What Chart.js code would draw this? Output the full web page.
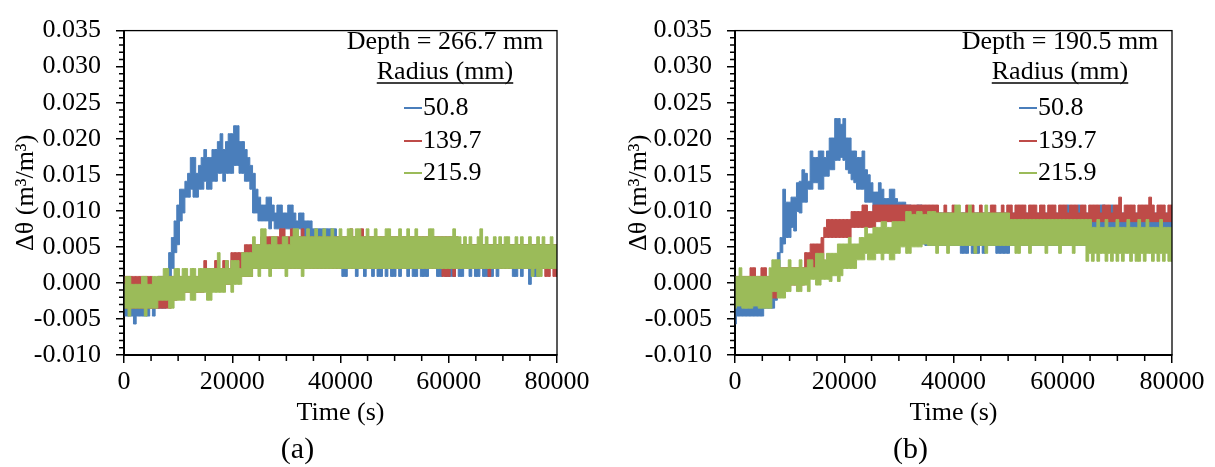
<!DOCTYPE html>
<html>
<head>
<meta charset="utf-8">
<script src="https://cdn.jsdelivr.net/npm/chart.js@4.4.0/dist/chart.umd.min.js"></script>
<style>
  body { margin: 0; background: #fff; }
  .panel { position: absolute; top: 0; height: 467px; }
  #panelA { left: 0; width: 607px; }
  #panelB { left: 607px; width: 608px; }
</style>
</head>
<body>
<div class="panel" id="panelA"><canvas id="chartA"></canvas></div>
<div class="panel" id="panelB"><canvas id="chartB"></canvas></div>
<script>
// =========================================================================
// Delta theta vs time, two depths. Noisy signals are kept as a band
// (upper / lower edge) every 500 s, in 0.001 m3/m3.
// One row = 5000 s.
// =========================================================================

const times = Array.from({ length: 161 }, (_, i) => i * 500);
const radii = ['50.8', '139.7', '215.9'];
const colors = ['#4a7ebb', '#be4b48', '#9bbb59'];

// (a) Depth = 266.7 mm
const aBlueHi = [
  -0.2, -1.3, -0.2, -0.2, -1.3, -0.2, -0.2, -1.3, -1.3, -0.2,
  -0.2, -1.3, -0.2, 0.9, 0.9, -0.2, 2.0, 4.2, 6.3, 8.6,
  10.8, 13.0, 13.0, 14.1, 15.2, 17.4, 17.4, 15.2, 16.3, 17.4,
  18.5, 17.4, 17.4, 18.5, 18.5, 19.6, 20.7, 18.5, 19.6, 20.7,
  20.7, 21.8, 21.8, 19.6, 19.6, 18.5, 17.4, 16.3, 15.2, 13.0,
  11.9, 10.8, 10.8, 11.9, 11.9, 10.8, 9.7, 10.8, 10.8, 9.7,
  9.7, 10.8, 10.8, 9.7, 8.6, 9.7, 9.7, 8.6, 8.6, 8.6,
  7.5, 7.5, 7.5, 7.5, 7.5, 7.5, 7.5, 7.5, 7.5, 6.4,
  5.3, 5.3, 5.3, 5.3, 5.3, 5.3, 5.3, 5.3, 5.3, 5.3,
  5.3, 5.3, 5.3, 5.3, 5.3, 5.3, 5.3, 5.3, 5.3, 5.3,
  5.3, 5.3, 5.3, 5.3, 5.3, 5.3, 5.3, 5.3, 5.3, 5.3,
  5.3, 5.3, 5.3, 5.3, 5.3, 5.3, 5.3, 5.3, 5.3, 5.3,
  5.3, 5.3, 5.3, 5.3, 5.3, 5.3, 5.3, 5.3, 5.3, 5.3,
  5.3, 5.3, 5.3, 5.3, 5.3, 5.3, 5.3, 5.3, 5.3, 5.3,
  5.3, 5.3, 5.3, 5.3, 5.3, 5.3, 5.3, 5.3, 5.3, 5.3,
  5.3, 5.3, 5.3, 5.3, 5.3, 5.3, 5.3, 5.3, 5.3, 5.3,
  5.3
];
const aBlueLo = [
  -4.6, -4.6, -4.6, -4.6, -5.7, -4.6, -4.6, -4.6, -4.6, -4.6,
  -3.5, -4.6, -3.5, -3.5, -3.5, -3.5, -1.3, 0.9, 2.0, 4.2,
  5.3, 8.6, 9.7, 11.9, 11.9, 13.0, 11.9, 11.9, 13.0, 13.0,
  14.1, 13.0, 13.0, 14.1, 14.1, 15.2, 15.2, 14.1, 15.2, 15.2,
  15.2, 16.3, 16.3, 15.2, 15.2, 14.1, 14.1, 13.0, 9.7, 9.7,
  8.6, 8.6, 8.6, 8.6, 7.5, 8.6, 7.5, 7.5, 7.5, 7.5,
  7.5, 7.5, 7.5, 7.5, 7.5, 7.5, 6.4, 6.4, 6.4, 6.4,
  6.4, 6.4, 5.3, 5.3, 4.2, 4.2, 3.1, 3.1, 2.0, 2.0,
  2.0, 0.9, 0.9, 2.0, 2.0, 2.0, 0.9, 2.0, 2.0, 0.9,
  2.0, 2.0, 0.9, 2.0, 0.9, 0.9, 2.0, 0.9, 2.0, 0.9,
  0.9, 2.0, 0.9, 2.0, 2.0, 0.9, 2.0, 0.9, 0.9, 2.0,
  0.9, 0.9, 0.9, 2.0, 2.0, 2.0, 0.9, 0.9, 2.0, 0.9,
  0.9, 0.9, 0.9, 2.0, 0.9, 0.9, 2.0, 2.0, 0.9, 2.0,
  0.9, 0.9, 2.0, 0.9, 0.9, 0.9, 0.9, 2.0, 0.9, 2.0,
  2.0, 2.0, 2.0, 2.0, 0.9, 0.9, 2.0, 0.9, 2.0, 2.0,
  -0.2, 2.0, 0.9, 0.9, 2.0, 2.0, 2.0, 2.0, 2.0, 2.0,
  2.0
];
const aRedHi = [
  0.9, 0.9, 0.9, 0.9, 0.9, 0.9, 0.9, 0.9, 0.9, 0.9,
  0.9, -0.2, -0.2, 0.9, 0.9, -0.2, -0.2, 0.9, 0.9, 0.9,
  0.9, 0.9, 0.9, 0.9, 0.9, 0.9, 0.9, 0.9, 0.9, 0.9,
  3.1, 2.0, 2.0, 2.0, 3.1, 2.0, 2.0, 3.1, 3.1, 2.0,
  4.2, 4.2, 4.2, 4.2, 4.2, 5.3, 5.3, 5.3, 5.3, 5.3,
  5.3, 6.4, 6.4, 6.4, 6.4, 6.4, 6.4, 6.4, 7.5, 7.5,
  6.4, 6.4, 7.5, 6.4, 6.4, 6.4, 7.5, 6.4, 6.4, 6.4,
  6.4, 6.4, 6.4, 6.4, 6.4, 6.4, 6.4, 6.4, 6.4, 6.4,
  6.4, 6.4, 6.4, 6.4, 7.5, 6.4, 6.4, 6.4, 7.5, 6.4,
  6.4, 6.4, 6.4, 6.4, 6.4, 6.4, 6.4, 6.4, 6.4, 6.4,
  6.4, 6.4, 6.4, 6.4, 6.4, 6.4, 6.4, 6.4, 6.4, 6.4,
  6.4, 6.4, 6.4, 6.4, 6.4, 6.4, 6.4, 6.4, 6.4, 6.4,
  6.4, 6.4, 6.4, 6.4, 5.3, 5.3, 5.3, 5.3, 5.3, 5.3,
  5.3, 5.3, 5.3, 5.3, 5.3, 5.3, 5.3, 5.3, 5.3, 5.3,
  5.3, 5.3, 5.3, 5.3, 5.3, 5.3, 5.3, 5.3, 5.3, 5.3,
  5.3, 5.3, 5.3, 5.3, 5.3, 5.3, 5.3, 5.3, 5.3, 5.3,
  5.3
];
const aRedLo = [
  -3.5, -3.5, -3.5, -3.5, -3.5, -3.5, -3.5, -3.5, -3.5, -3.5,
  -3.5, -3.5, -3.5, -3.5, -3.5, -3.5, -3.5, -3.5, -2.4, -2.4,
  -1.3, -1.3, -1.3, -1.3, -1.3, -1.3, -1.3, -1.3, -1.3, -1.3,
  -0.2, -0.2, -0.2, -0.2, -0.2, -0.2, -0.2, -0.2, -0.2, -0.2,
  0.9, 0.9, 0.9, 0.9, 0.9, 0.9, 0.9, 0.9, 2.0, 2.0,
  2.0, 2.0, 2.0, 2.0, 2.0, 2.0, 2.0, 2.0, 2.0, 2.0,
  2.0, 2.0, 2.0, 2.0, 2.0, 2.0, 2.0, 2.0, 2.0, 2.0,
  2.0, 2.0, 2.0, 2.0, 2.0, 2.0, 2.0, 2.0, 2.0, 2.0,
  2.0, 2.0, 2.0, 2.0, 2.0, 2.0, 2.0, 2.0, 2.0, 2.0,
  2.0, 2.0, 2.0, 2.0, 2.0, 2.0, 2.0, 2.0, 2.0, 2.0,
  2.0, 2.0, 2.0, 2.0, 2.0, 2.0, 2.0, 2.0, 2.0, 2.0,
  2.0, 2.0, 2.0, 2.0, 2.0, 2.0, 2.0, 2.0, 0.9, 0.9,
  0.9, 2.0, 0.9, 2.0, 2.0, 2.0, 2.0, 2.0, 2.0, 2.0,
  2.0, 2.0, 2.0, 2.0, 2.0, 0.9, 2.0, 2.0, 2.0, 2.0,
  2.0, 2.0, 2.0, 2.0, 2.0, 2.0, 2.0, 2.0, 2.0, 2.0,
  2.0, 2.0, 2.0, 2.0, 2.0, 2.0, 0.9, 0.9, 2.0, 0.9,
  0.9
];
const aGreenHi = [
  -0.2, 0.9, 0.9, -0.2, -0.2, -0.2, -0.2, 0.9, 0.9, -0.2,
  -0.2, 0.9, 0.9, 0.9, 0.9, 2.0, 2.0, 0.9, 0.9, 2.0,
  2.0, 0.9, 2.0, 2.0, 0.9, 2.0, 2.0, 0.9, 2.0, 2.0,
  2.0, 2.0, 2.0, 2.0, 2.0, 4.2, 2.0, 2.0, 3.1, 2.0,
  3.1, 3.1, 3.1, 2.0, 4.2, 4.2, 4.2, 4.2, 6.4, 5.3,
  5.3, 7.5, 7.5, 5.3, 5.3, 6.4, 6.4, 5.3, 5.3, 6.4,
  6.4, 5.3, 6.4, 7.5, 7.5, 6.4, 6.4, 6.4, 7.5, 6.4,
  6.4, 7.5, 6.4, 6.4, 7.5, 6.4, 6.4, 7.5, 6.4, 6.4,
  7.5, 6.4, 6.4, 7.5, 7.5, 6.4, 7.5, 7.5, 6.4, 6.4,
  7.5, 6.4, 6.4, 7.5, 6.4, 6.4, 6.4, 7.5, 7.5, 6.4,
  6.4, 6.4, 7.5, 6.4, 6.4, 7.5, 6.4, 6.4, 7.5, 6.4,
  6.4, 6.4, 6.4, 7.5, 7.5, 6.4, 6.4, 6.4, 6.4, 6.4,
  6.4, 6.4, 7.5, 6.4, 6.4, 5.3, 6.4, 5.3, 6.4, 5.3,
  5.3, 6.4, 7.5, 5.3, 6.4, 5.3, 5.3, 6.4, 5.3, 6.4,
  5.3, 6.4, 6.4, 5.3, 5.3, 6.4, 5.3, 6.4, 5.3, 5.3,
  6.4, 5.3, 5.3, 6.4, 5.3, 6.4, 5.3, 5.3, 6.4, 5.3,
  5.3
];
const aGreenLo = [
  -3.5, -3.5, -4.6, -3.5, -3.5, -3.5, -3.5, -3.5, -4.6, -3.5,
  -3.5, -3.5, -3.5, -2.4, -2.4, -2.4, -2.4, -3.5, -3.5, -2.4,
  -2.4, -2.4, -2.4, -1.3, -1.3, -2.4, -2.4, -1.3, -1.3, -1.3,
  -1.3, -2.4, -2.4, -1.3, -1.3, -1.3, -1.3, -1.3, -0.2, -0.2,
  -1.3, -0.2, -0.2, -0.2, 0.9, 0.9, 0.9, 0.9, 2.0, 2.0,
  0.9, 2.0, 2.0, 2.0, 0.9, 2.0, 2.0, 2.0, 2.0, 2.0,
  0.9, 2.0, 2.0, 2.0, 2.0, 2.0, 0.9, 2.0, 2.0, 2.0,
  2.0, 2.0, 2.0, 2.0, 2.0, 2.0, 2.0, 2.0, 2.0, 2.0,
  2.0, 2.0, 2.0, 2.0, 2.0, 2.0, 2.0, 2.0, 2.0, 2.0,
  2.0, 2.0, 2.0, 2.0, 2.0, 2.0, 2.0, 2.0, 2.0, 2.0,
  2.0, 2.0, 2.0, 2.0, 2.0, 2.0, 2.0, 2.0, 2.0, 2.0,
  2.0, 2.0, 2.0, 2.0, 2.0, 2.0, 2.0, 2.0, 2.0, 2.0,
  2.0, 2.0, 2.0, 2.0, 2.0, 2.0, 2.0, 2.0, 2.0, 2.0,
  2.0, 2.0, 2.0, 2.0, 2.0, 2.0, 2.0, 2.0, 2.0, 2.0,
  2.0, 2.0, 2.0, 2.0, 2.0, 2.0, 2.0, 2.0, 2.0, 2.0,
  2.0, 0.9, 2.0, 0.9, 0.9, 2.0, 2.0, 2.0, 2.0, 2.0,
  2.0
];

// (b) Depth = 190.5 mm
const bBlueHi = [
  -2.4, -2.4, -2.4, -2.4, -3.5, -2.4, -2.4, -2.4, -2.4, -2.4,
  -2.4, -2.4, -2.4, -2.4, -1.3, 2.0, 4.2, 6.3, 13.0, 11.2,
  11.2, 11.9, 11.9, 13.9, 14.1, 15.7, 15.2, 14.1, 18.3, 17.4,
  17.4, 18.3, 18.3, 17.4, 18.3, 20.1, 20.1, 22.8, 22.8, 22.0,
  22.8, 20.1, 20.1, 18.3, 18.3, 17.4, 17.4, 18.3, 15.7, 15.0,
  13.9, 12.6, 12.6, 13.9, 13.0, 11.7, 11.7, 13.0, 13.0, 11.7,
  11.2, 11.2, 11.2, 10.8, 10.8, 9.7, 9.7, 10.8, 10.8, 9.7,
  9.7, 9.7, 9.7, 9.7, 9.7, 9.7, 9.7, 9.7, 9.7, 9.7,
  9.7, 9.7, 9.7, 9.7, 9.7, 9.7, 9.7, 9.7, 9.7, 9.7,
  9.7, 9.7, 9.7, 9.7, 9.7, 9.7, 9.7, 9.7, 9.7, 9.7,
  9.7, 9.7, 9.7, 9.7, 9.7, 9.7, 9.7, 9.7, 9.7, 9.7,
  9.7, 9.7, 9.7, 9.7, 9.7, 9.7, 9.7, 9.7, 9.7, 9.7,
  9.7, 9.7, 10.8, 9.7, 9.7, 9.7, 10.8, 9.7, 9.7, 9.7,
  9.7, 9.7, 9.7, 9.7, 10.8, 10.8, 9.7, 9.7, 10.8, 9.7,
  9.7, 9.7, 9.7, 9.7, 9.7, 9.7, 9.7, 9.7, 9.7, 9.7,
  9.7, 9.7, 9.7, 9.7, 9.7, 9.7, 9.7, 9.7, 9.7, 9.7,
  9.7
];
const bBlueLo = [
  -5.7, -4.6, -4.6, -4.6, -4.6, -4.6, -4.6, -4.6, -4.6, -4.6,
  -4.6, -3.5, -3.5, -3.5, -3.5, -2.4, 2.0, 4.2, 5.4, 6.3,
  6.3, 7.7, 7.2, 9.9, 9.7, 11.2, 11.2, 13.0, 13.0, 13.9,
  13.9, 13.0, 13.0, 14.8, 14.8, 15.7, 15.7, 17.0, 17.0, 17.4,
  17.0, 15.7, 15.2, 14.3, 13.9, 13.0, 13.0, 13.0, 11.2, 11.2,
  11.2, 9.9, 9.9, 10.3, 10.3, 9.9, 9.9, 9.9, 9.9, 9.9,
  9.0, 9.0, 8.5, 8.5, 7.7, 7.7, 6.3, 6.3, 5.4, 5.4,
  5.2, 5.2, 5.2, 5.2, 5.2, 5.2, 5.2, 5.2, 5.2, 5.2,
  5.2, 5.2, 5.2, 4.1, 4.1, 4.1, 5.2, 4.1, 4.1, 4.1,
  5.2, 4.1, 5.2, 5.2, 5.2, 5.2, 4.1, 4.1, 4.1, 4.1,
  4.1, 5.2, 5.2, 5.2, 5.2, 5.2, 5.2, 5.2, 5.2, 5.2,
  5.2, 5.2, 5.2, 5.2, 5.2, 5.2, 5.2, 5.2, 5.2, 5.2,
  5.2, 5.2, 5.2, 5.2, 5.2, 5.2, 5.2, 5.2, 5.2, 5.2,
  5.2, 5.2, 5.2, 5.2, 5.2, 5.2, 5.2, 5.2, 5.2, 5.2,
  5.2, 5.2, 5.2, 5.2, 5.2, 5.2, 5.2, 5.2, 5.2, 5.2,
  5.2, 5.2, 5.2, 5.2, 5.2, 5.2, 5.2, 5.2, 5.2, 5.2,
  5.2
];
const bRedHi = [
  0.9, 0.9, 0.9, 0.9, 0.9, 0.9, 2.1, 2.1, 0.9, 0.9,
  2.1, 2.1, 0.9, 0.9, 0.9, 0.9, 2.1, 2.1, 2.1, 2.1,
  2.1, 2.1, 2.1, 2.1, 2.1, 2.1, 4.2, 4.2, 5.4, 5.4,
  5.4, 5.4, 6.3, 7.7, 8.8, 8.8, 8.8, 8.8, 8.8, 8.8,
  8.8, 8.8, 8.8, 9.9, 9.9, 9.9, 9.9, 10.8, 10.8, 9.9,
  9.9, 10.8, 10.8, 10.8, 10.8, 10.8, 10.8, 10.8, 10.8, 10.8,
  10.8, 10.8, 10.8, 10.8, 10.8, 10.8, 10.8, 10.8, 10.8, 10.8,
  10.8, 10.8, 10.8, 10.8, 10.8, 9.7, 9.7, 10.8, 9.7, 9.7,
  10.8, 9.7, 9.7, 9.7, 9.7, 10.8, 9.7, 10.8, 9.7, 9.7,
  10.8, 9.7, 9.7, 9.7, 10.8, 10.8, 9.7, 9.7, 10.8, 9.7,
  10.8, 10.8, 9.7, 10.8, 10.8, 10.8, 10.8, 9.7, 10.8, 10.8,
  10.8, 9.7, 10.8, 10.8, 9.7, 10.8, 10.8, 10.8, 9.7, 10.8,
  10.8, 10.8, 9.7, 10.8, 10.8, 10.8, 9.7, 10.8, 10.8, 9.7,
  10.8, 10.8, 10.8, 10.8, 9.7, 10.8, 10.8, 10.8, 9.7, 10.8,
  10.8, 11.9, 9.7, 10.8, 10.8, 10.8, 10.8, 9.7, 10.8, 10.8,
  10.8, 10.8, 11.9, 10.8, 9.7, 10.8, 10.8, 10.8, 9.7, 10.8,
  10.8
];
const bRedLo = [
  -2.1, -2.1, -2.1, -2.1, -2.1, -2.1, -2.1, -2.1, -2.1, -2.1,
  -2.1, -2.1, -2.1, -2.1, -2.1, -2.1, -1.2, -1.2, -0.3, -0.3,
  -0.3, -0.3, -0.3, -0.3, -0.3, -0.3, 2.1, 2.1, 2.1, 2.1,
  2.1, 2.1, 2.1, 6.3, 6.3, 6.3, 6.3, 6.3, 6.3, 6.3,
  6.3, 6.3, 6.3, 7.7, 7.7, 7.7, 7.7, 7.7, 7.7, 7.7,
  7.7, 7.7, 8.5, 8.5, 8.5, 8.5, 8.5, 8.5, 8.5, 8.5,
  8.5, 8.5, 8.5, 8.5, 8.5, 8.5, 8.5, 8.5, 8.5, 8.5,
  8.5, 8.5, 8.5, 8.5, 8.5, 8.5, 8.5, 8.5, 8.5, 8.5,
  8.5, 8.5, 8.5, 8.5, 8.5, 8.5, 8.5, 8.5, 8.5, 8.5,
  8.5, 8.5, 8.5, 8.5, 8.5, 8.5, 8.5, 8.5, 8.5, 8.5,
  8.5, 8.5, 8.5, 8.5, 8.5, 8.5, 8.5, 8.5, 8.5, 8.5,
  8.5, 8.5, 8.5, 8.5, 8.5, 8.5, 8.5, 8.5, 8.5, 8.5,
  8.5, 8.5, 8.5, 8.5, 8.5, 8.5, 8.5, 8.5, 8.5, 8.5,
  8.5, 8.5, 8.5, 8.5, 8.5, 8.5, 8.5, 8.5, 8.5, 8.5,
  8.5, 8.5, 8.5, 8.5, 8.5, 8.5, 8.5, 8.5, 8.5, 8.5,
  8.5, 8.5, 8.5, 8.5, 8.5, 8.5, 8.5, 8.5, 8.5, 8.5,
  8.5
];
const bGreenHi = [
  0.9, 0.9, 2.1, 0.9, 0.9, 0.9, 0.9, 0.9, 0.9, 0.9,
  0.9, 0.9, 0.9, 2.1, 3.2, 3.2, 3.2, 2.1, 2.1, 2.1,
  3.2, 2.1, 2.1, 2.1, 3.2, 2.1, 2.1, 3.2, 3.2, 2.1,
  4.1, 4.1, 4.1, 3.2, 4.1, 4.1, 4.1, 4.1, 5.4, 5.4,
  5.4, 5.4, 6.3, 5.4, 5.4, 5.4, 6.3, 6.3, 7.7, 6.8,
  6.8, 7.7, 7.7, 7.7, 8.5, 8.5, 7.7, 7.7, 8.5, 8.5,
  8.5, 8.5, 8.5, 9.9, 9.9, 9.5, 9.5, 9.9, 9.9, 9.5,
  9.5, 9.9, 9.9, 9.9, 9.7, 9.7, 9.7, 9.7, 9.7, 9.7,
  9.7, 10.8, 10.8, 9.7, 9.7, 9.7, 10.8, 9.7, 9.7, 9.7,
  9.7, 9.7, 10.8, 9.7, 9.7, 9.7, 9.7, 9.7, 9.7, 9.7,
  9.7, 8.8, 8.8, 8.8, 8.8, 8.8, 8.8, 8.8, 8.8, 8.8,
  8.8, 8.8, 8.8, 8.8, 8.8, 8.8, 8.8, 8.8, 8.8, 8.8,
  8.8, 8.8, 8.8, 8.8, 8.8, 8.8, 8.8, 8.8, 8.8, 8.8,
  8.8, 7.7, 7.7, 8.8, 7.7, 7.7, 8.8, 7.7, 7.7, 7.7,
  8.8, 7.7, 7.7, 7.7, 8.8, 7.7, 7.7, 7.7, 8.8, 7.7,
  7.7, 8.8, 7.7, 7.7, 7.7, 7.7, 8.8, 7.7, 7.7, 7.7,
  7.7
];
const bGreenLo = [
  -3.5, -3.2, -3.2, -3.5, -3.5, -3.5, -3.5, -3.2, -3.2, -3.5,
  -3.5, -3.5, -3.5, -3.5, -1.2, -1.2, -2.1, -2.1, -2.1, -1.2,
  -1.2, -0.3, -0.3, -1.2, -1.2, -0.3, -0.3, -1.2, 0.5, 0.5,
  -0.3, -0.3, 0.5, 0.5, 0.5, 0.2, 1.0, 1.0, 0.2, 1.0,
  2.0, 2.0, 2.0, 2.0, 2.0, 3.2, 3.2, 3.2, 4.1, 3.2,
  3.2, 3.2, 4.1, 4.1, 3.2, 4.1, 4.1, 3.2, 3.2, 4.1,
  4.1, 5.0, 5.0, 4.1, 4.1, 5.0, 5.0, 5.0, 5.0, 5.4,
  5.4, 5.2, 5.2, 5.2, 4.1, 5.2, 5.2, 5.2, 4.1, 5.2,
  5.2, 5.2, 5.2, 5.2, 5.2, 5.2, 5.2, 5.2, 4.1, 5.2,
  5.2, 5.2, 4.1, 5.2, 5.2, 5.2, 5.2, 5.2, 5.2, 5.2,
  5.2, 5.2, 5.2, 4.1, 4.1, 5.2, 5.2, 5.2, 4.1, 5.2,
  5.2, 5.2, 5.2, 5.2, 4.1, 5.2, 5.2, 5.2, 5.2, 4.1,
  5.2, 5.2, 5.2, 5.2, 4.1, 5.2, 5.2, 5.2, 5.2, 3.0,
  4.1, 3.0, 4.1, 3.0, 4.1, 4.1, 3.0, 4.1, 3.0, 4.1,
  3.0, 4.1, 3.0, 4.1, 4.1, 3.0, 4.1, 3.0, 3.0, 4.1,
  3.0, 4.1, 4.1, 3.0, 4.1, 3.0, 4.1, 3.0, 4.1, 3.0,
  3.0
];

const FONT = "'Liberation Serif', 'Times New Roman', serif";
const FONT_SIZE = 26;

function toPoints(arr) {
    return times.map((t, i) => ({ x: t, y: arr[i] / 1000 }));
}

// one noise band = upper edge filled down to lower edge
function band(color, label, hi, lo) {
    const common = {
        borderColor: color,
        backgroundColor: color,
        borderWidth: 1,
        pointRadius: 0,
        stepped: 'middle',
        tension: 0
    };
    return [
        { ...common, label: label, data: toPoints(hi), fill: '+1' },
        { ...common, label: '', data: toPoints(lo), fill: false }
    ];
}

// box around plot, minor ticks, legend text and (a)/(b)
const decor = {
    id: 'decor',
    afterDraw(chart, args, opts) {
        const { ctx, chartArea, scales } = chart;
        const { left, right, top, bottom } = chartArea;
        ctx.save();

        ctx.strokeStyle = '#000';
        ctx.lineWidth = 1.3;
        ctx.strokeRect(left, top, right - left, bottom - top);

        // minor ticks
        ctx.lineWidth = 1.5;
        ctx.beginPath();
        for (let v = -9; v < 35; v++) {
            if (v % 5 === 0) continue;
            const py = scales.y.getPixelForValue(v / 1000);
            ctx.moveTo(left - 5, py);
            ctx.lineTo(left, py);
        }
        for (let t = 5000; t < 80000; t += 5000) {
            if (t % 20000 === 0) continue;
            const px = scales.x.getPixelForValue(t);
            ctx.moveTo(px, bottom);
            ctx.lineTo(px, bottom + 6);
        }
        ctx.stroke();

        // legend
        const cx = right - 112;
        ctx.fillStyle = '#000';
        ctx.font = FONT_SIZE + 'px ' + FONT;
        ctx.textAlign = 'center';
        ctx.textBaseline = 'middle';
        ctx.fillText(opts.depth, cx, 42);
        ctx.fillText('Radius (mm)', cx, 72);
        const w = ctx.measureText('Radius (mm)').width;
        ctx.lineWidth = 1.3;
        ctx.beginPath();
        ctx.moveTo(cx - w / 2, 83);
        ctx.lineTo(cx + w / 2, 83);
        ctx.stroke();

        const rows = [108, 141, 173];
        ctx.textAlign = 'left';
        chart.data.datasets.filter(d => d.label).reverse().forEach((d, i) => {
            ctx.strokeStyle = d.borderColor;
            ctx.lineWidth = 2;
            ctx.beginPath();
            ctx.moveTo(cx - 41, rows[i]);
            ctx.lineTo(cx - 23, rows[i]);
            ctx.stroke();
            ctx.fillText(d.label, cx - 22, rows[i]);
        });

        // panel tag
        ctx.font = '30px ' + FONT;
        ctx.textAlign = 'center';
        ctx.fillText(opts.tag, (left + right) / 2 - 43, 450);
        ctx.restore();
    }
};

function makeChart(canvasId, series, depth, tag, geo) {
    // green first so it is drawn on top, blue last (drawn first)
    const datasets = [
        ...band(colors[2], radii[2], series.green[0], series.green[1]),
        ...band(colors[1], radii[1], series.red[0], series.red[1]),
        ...band(colors[0], radii[0], series.blue[0], series.blue[1])
    ];

    return new Chart(document.getElementById(canvasId), {
        type: 'line',
        data: { datasets: datasets },
        options: {
            responsive: true,
            maintainAspectRatio: false,
            animation: false,
            events: [],
            layout: { padding: { left: 0, right: geo.padRight, top: 18, bottom: 0 } },
            plugins: {
                legend: { display: false },
                tooltip: { enabled: false },
                decor: { depth: depth, tag: tag }
            },
            scales: {
                x: {
                    type: 'linear',
                    min: 0,
                    max: 80000,
                    afterFit: s => { s.height = 112; },
                    ticks: {
                        stepSize: 20000,
                        padding: 4,
                        color: '#000',
                        font: { family: FONT, size: FONT_SIZE },
                        maxRotation: 0,
                        callback: v => String(v)
                    },
                    grid: { drawOnChartArea: false, tickLength: 8, color: '#000', lineWidth: 1.5 },
                    border: { display: true, color: '#000', width: 2 },
                    title: {
                        display: true,
                        text: 'Time (s)',
                        color: '#000',
                        font: { family: FONT, size: FONT_SIZE },
                        padding: { top: 0, bottom: 38 }
                    }
                },
                y: {
                    min: -0.01,
                    max: 0.035,
                    afterFit: s => { s.width = geo.axisW; },
                    ticks: {
                        stepSize: 0.005,
                        padding: geo.tickPad,
                        color: '#000',
                        font: { family: FONT, size: FONT_SIZE },
                        callback: v => (Math.round(v * 1000) / 1000).toFixed(3)
                    },
                    grid: { drawOnChartArea: false, tickLength: 8, color: '#000', lineWidth: 1.5 },
                    border: { display: true, color: '#000', width: 2 },
                    title: {
                        display: true,
                        text: 'Δθ (m³/m³)',
                        color: '#000',
                        font: { family: FONT, size: FONT_SIZE },
                        padding: { top: geo.titlePad, bottom: 0 }
                    }
                }
            }
        },
        plugins: [decor]
    });
}

makeChart('chartA',
    { blue: [aBlueHi, aBlueLo], red: [aRedHi, aRedLo], green: [aGreenHi, aGreenLo] },
    'Depth = 266.7 mm', '(a)',
    { axisW: 124, tickPad: 15, titlePad: 11, padRight: 50 });

makeChart('chartB',
    { blue: [bBlueHi, bBlueLo], red: [bRedHi, bRedLo], green: [bGreenHi, bGreenLo] },
    'Depth = 190.5 mm', '(b)',
    { axisW: 128, tickPad: 15, titlePad: 17, padRight: 43 });
</script>
</body>
</html>
